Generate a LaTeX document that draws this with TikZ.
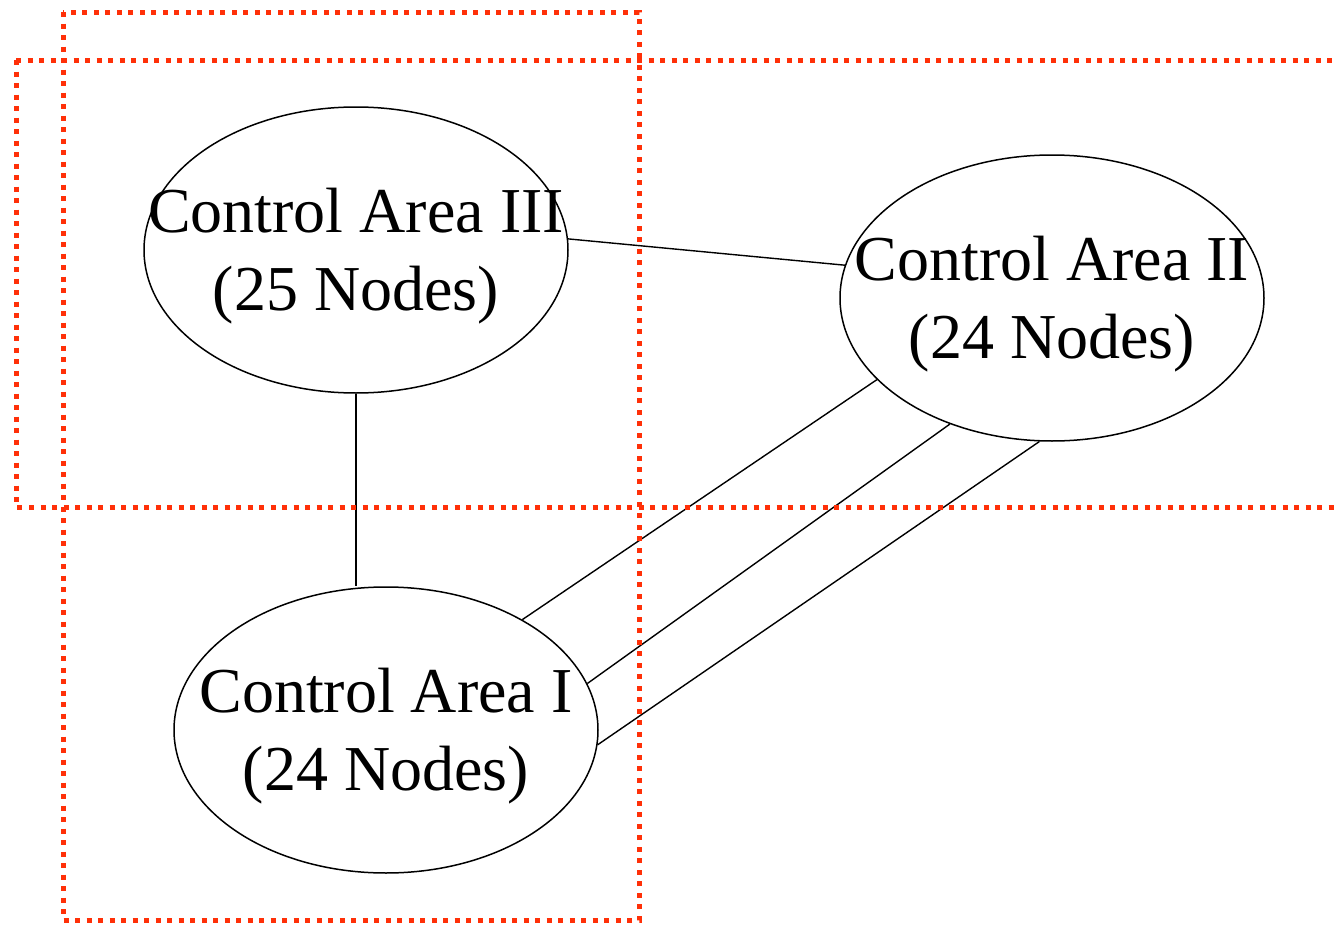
\documentclass[tikz,border=0pt]{standalone}
\usepackage{fontspec}
\setmainfont{Liberation Serif}
\usetikzlibrary{shapes.geometric}
\definecolor{zonered}{RGB}{255,48,8}
\tikzset{
  area/.style={draw=black, line width=0.75pt, ellipse, inner sep=0pt,
               minimum width=212pt, minimum height=143pt},
  areatext/.style={align=center, inner sep=0pt, yshift=-3pt,
                   font=\fontsize{32}{39}\selectfont},
  link/.style={draw=black, line width=0.7pt},
  zone/.style={draw=zonered, line width=2.5pt, line cap=butt,
               dash pattern=on 2.5pt off 3.25pt},
}
\begin{document}
\begin{tikzpicture}[x=0.5pt, y=-0.5pt]
  \useasboundingbox (0,0) rectangle (1335,926);
  \clip (0,0) rectangle (1335,926);

  % control areas
  \node[area] (a3) at (356,250) {};
  \node[area] (a2) at (1052,298) {};
  \node[area] (a1) at (386,730) {};
  \node[areatext] at (a3) {Control Area III\\(25 Nodes)};
  \node[areatext] at (a2) {Control Area II\\(24 Nodes)};
  \node[areatext] at (a1) {Control Area I\\(24 Nodes)};

  % tie lines between areas
  \draw[link] (a3.3.8) -- (a2.171.9);
  \draw[link] (a3.south) -- (a3.south |- a1.north);
  \draw[link] (a1.39.4) -- (a2.-155.75);
  \draw[link] (a1.13.35) -- (a2.-129.2);
  \draw[link] (a1.-4.3) -- (a2.-95.9);

  % dotted partition boundaries
  \draw[zone] (63,12) rectangle (639,920);
  \draw[zone] (16,60) -- (1360,60) (16,60) -- (16,507) -- (1360,507);
\end{tikzpicture}
\end{document}
